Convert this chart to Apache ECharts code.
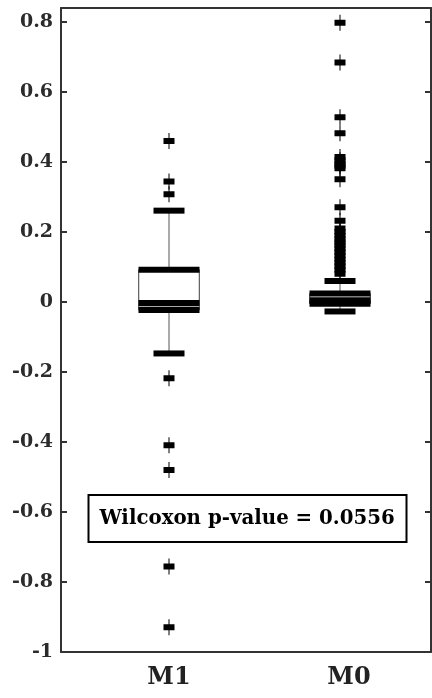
<!DOCTYPE html>
<html>
<head>
<meta charset="utf-8">
<script src="https://cdn.jsdelivr.net/npm/echarts@6/dist/echarts.min.js"></script>
<style>
  html, body { margin: 0; padding: 0; background: #fff; }
  #chart { width: 432px; height: 698px; }
</style>
</head>
<body>
<div id="chart"></div>
<script>
var categories = ["M1", "M0"];
// [lower whisker, Q1, median, Q3, upper whisker]
var m1Box = [-0.147, -0.023, -0.003, 0.092, 0.261];
var m0Box = [-0.027, -0.005, 0.005, 0.024, 0.06];
var m1Outliers = [0.46, 0.344, 0.308, -0.218, -0.409, -0.48, -0.756, -0.929];
var m0Outliers = [0.798, 0.684, 0.528, 0.482, 0.414, 0.405, 0.396, 0.389, 0.382, 0.351,
    0.271, 0.232, 0.21, 0.2, 0.19, 0.18, 0.171, 0.162, 0.152, 0.142, 0.132, 0.122,
    0.112, 0.102, 0.092, 0.081];
var yMin = -1;
var yMax = 0.84;
var yStep = 0.2;
var pValueText = "Wilcoxon p-value = 0.0556";

var font = "DejaVu Serif";
var axisColor = "#333";

var boxData = [[0].concat(m1Box), [1].concat(m0Box)];
var outlierData = [];
m1Outliers.forEach(function (v) { outlierData.push([0, v]); });
m0Outliers.forEach(function (v) { outlierData.push([1, v]); });

// the M0 label sits a little right of its box in the original
var categoryLabels = [
    { value: categories[0] },
    { value: categories[1], textStyle: { padding: [0, 0, 0, 18] } }
];

var chart = echarts.init(document.getElementById("chart"), null, { renderer: "canvas" });

function renderBox(params, api) {
    var cat = api.value(0);
    var lo = api.coord([cat, api.value(1)]);
    var q1 = api.coord([cat, api.value(2)]);
    var med = api.coord([cat, api.value(3)]);
    var q3 = api.coord([cat, api.value(4)]);
    var hi = api.coord([cat, api.value(5)]);
    var x = lo[0];
    var boxW = 61, capW = 31, band = 6;
    function bar(p, w) {
        return { type: "rect", shape: { x: x - w / 2, y: p[1] - band / 2, width: w, height: band },
                 style: { fill: "#000" } };
    }
    return {
        type: "group",
        children: [
            { type: "line", shape: { x1: x, y1: hi[1], x2: x, y2: lo[1] },
              style: { stroke: "#555", lineWidth: 1 } },
            { type: "rect", shape: { x: x - boxW / 2, y: q3[1], width: boxW, height: q1[1] - q3[1] },
              style: { fill: "#aaa", stroke: "#666", lineWidth: 1 } },
            { type: "rect", shape: { x: x - boxW / 2 + 1, y: q3[1], width: boxW - 2, height: med[1] - q3[1] },
              style: { fill: "#fff" } },
            bar(q3, boxW),
            bar(med, boxW),
            bar(q1, boxW),
            bar(hi, capW),
            bar(lo, capW)
        ]
    };
}

var frameLine = { show: true, onZero: false, lineStyle: { color: axisColor, width: 2 } };

chart.setOption({
    animation: false,
    backgroundColor: "#fff",
    title: {
        text: pValueText,
        left: 88,
        top: 495,
        padding: [13, 11.5],
        borderColor: "#000",
        borderWidth: 2,
        textStyle: { fontFamily: font, fontWeight: "bold", fontSize: 19.8, lineHeight: 21, color: "#000" }
    },
    grid: [
        { left: 61, right: 1, top: 8, bottom: 46 },
        { left: 83.5, right: 6.5, top: 8, bottom: 46 }
    ],
    xAxis: [
        { gridIndex: 0, type: "value", position: "bottom", min: 0, max: 1, axisLine: frameLine,
          axisTick: { show: false }, axisLabel: { show: false }, splitLine: { show: false } },
        { gridIndex: 0, type: "value", position: "top", min: 0, max: 1, axisLine: frameLine,
          axisTick: { show: false }, axisLabel: { show: false }, splitLine: { show: false } },
        { gridIndex: 1, type: "category", data: categoryLabels,
          axisLine: { show: false }, axisTick: { show: false }, splitLine: { show: false },
          axisLabel: { margin: 14, fontFamily: font, fontWeight: "bold", fontSize: 24, color: "#222" } }
    ],
    yAxis: [
        { gridIndex: 0, type: "value", position: "left", min: yMin, max: yMax, interval: yStep,
          axisLine: frameLine,
          axisTick: { show: true, inside: true, length: 6, lineStyle: { color: axisColor, width: 2 } },
          axisLabel: { margin: 8, fontFamily: font, fontWeight: "bold", fontSize: 19, color: "#2b2b2b",
                       showMaxLabel: false },
          splitLine: { show: false } },
        { gridIndex: 0, type: "value", position: "right", min: yMin, max: yMax, interval: yStep,
          axisLine: frameLine,
          axisTick: { show: true, inside: true, length: 6, lineStyle: { color: axisColor, width: 2 } },
          axisLabel: { show: false }, splitLine: { show: false } },
        { gridIndex: 1, type: "value", min: yMin, max: yMax, show: false }
    ],
    series: [
        {
            type: "custom",
            xAxisIndex: 2,
            yAxisIndex: 2,
            renderItem: renderBox,
            encode: { x: 0, y: [1, 2, 3, 4, 5] },
            data: boxData,
            z: 2
        },
        {
            type: "scatter",
            xAxisIndex: 2,
            yAxisIndex: 2,
            symbol: "path://M0,5H11V11H0Z M5,0H6V16H5Z",
            symbolSize: [11, 16],
            itemStyle: { color: "#000", opacity: 1 },
            data: outlierData,
            z: 3
        }
    ]
});
</script>
</body>
</html>
